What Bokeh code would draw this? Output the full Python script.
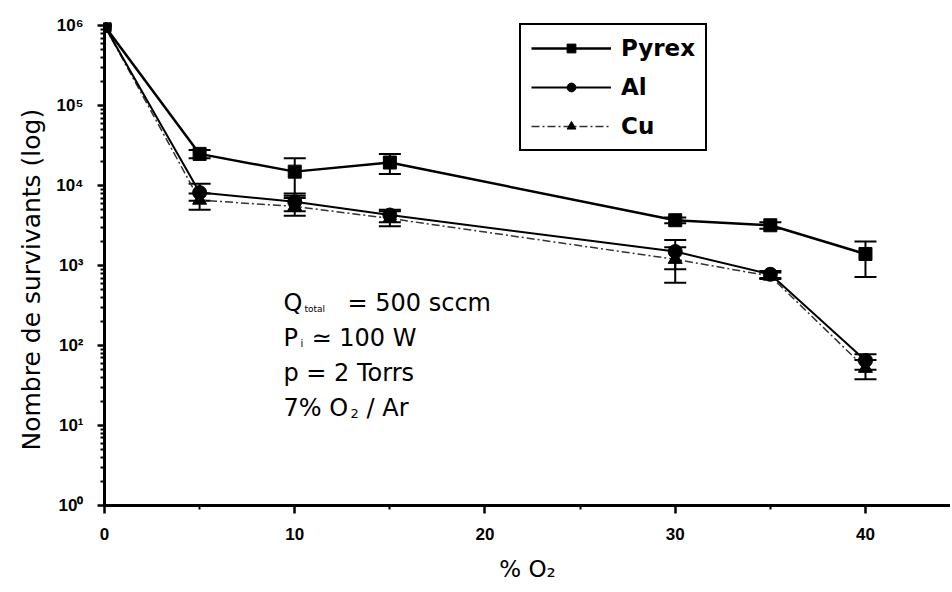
import numpy as np
from bokeh.plotting import figure
from bokeh.models import (ColumnDataSource, Range1d, FixedTicker, CustomJSTickFormatter,
                          Whisker, TeeHead, Legend, LegendItem, Label, Title)
from bokeh.embed import file_html
from bokeh.resources import INLINE

# ---------------- data ----------------
o2_pct = [0, 5, 10, 15, 30, 35, 40]

pyrex    = [1.0e6, 2.5e4, 1.5e4, 1.95e4, 3.7e3, 3.2e3, 1.4e3]
pyrex_lo = [1.0e6, 2.2e4, 8.0e3, 1.4e4, 3.4e3, 2.9e3, 7.2e2]
pyrex_hi = [1.0e6, 2.8e4, 2.2e4, 2.5e4, 4.0e3, 3.5e3, 2.0e3]

al    = [1.0e6, 8.2e3, 6.3e3, 4.3e3, 1.5e3, 7.8e2, 65]
al_lo = [1.0e6, 6.5e3, 4.8e3, 3.5e3, 9.0e2, 7.0e2, 50]
al_hi = [1.0e6, 1.06e4, 7.5e3, 5.0e3, 2.1e3, 8.6e2, 78]

cu    = [1.0e6, 6.6e3, 5.5e3, 3.9e3, 1.2e3, 7.4e2, 52]
cu_lo = [1.0e6, 5.0e3, 4.2e3, 3.1e3, 6.1e2, 6.8e2, 38]
cu_hi = [1.0e6, 8.0e3, 7.0e3, 4.8e3, 1.7e3, 8.2e2, 66]

series_names = ["Pyrex", "Al", "Cu"]

x_ticks = [0, 10, 20, 30, 40]
x_tick_labels = ["0", "10", "20", "30", "40"]
x_minor = [5, 15, 25, 35, 45]
y_ticks = [1, 10, 100, 1e3, 1e4, 1e5, 1e6]
y_tick_labels = ["10\u2070", "10\u00b9", "10\u00b2", "10\u00b3", "10\u2074", "10\u2075", "10\u2076"]

x_title = "% O\u2082"
y_title = "Nombre de survivants (log)"
notes = ["= 500 sccm", "\u2243 100 W", "p = 2 Torrs", "7% O", "/ Ar"]

FONT = "DejaVu Sans"
TICKFONT = "Liberation Sans"

# ---------------- figure ----------------
p = figure(width=950, height=584, y_axis_type="log",
           x_range=Range1d(0, 44.47), y_range=Range1d(1, 1.1e6),
           output_backend="svg", toolbar_location=None,
           min_border_left=104, min_border_top=22, min_border_bottom=79, min_border_right=0)
p.outline_line_color = None
p.grid.visible = False
p.background_fill_color = "white"

fmt_code = """
for (let i = 0; i < vals.length; i++) {
  if (Math.abs(tick - vals[i]) <= 1e-6 * Math.max(1, Math.abs(vals[i]))) return labels[i];
}
return '';
"""

xa = p.xaxis[0]
xa.ticker = FixedTicker(ticks=x_ticks, minor_ticks=x_minor)
xa.formatter = CustomJSTickFormatter(args=dict(vals=x_ticks, labels=x_tick_labels), code=fmt_code)
xa.axis_line_width = 3
xa.major_tick_line_width = 2.5
xa.minor_tick_line_width = 2
xa.major_tick_out = 8
xa.major_tick_in = 0
xa.minor_tick_out = 4
xa.minor_tick_in = 0
xa.major_label_standoff = 14
xa.major_label_text_font = TICKFONT
xa.major_label_text_font_size = "17px"
xa.major_label_text_font_style = "bold"
xa.major_label_text_color = "black"
xa.axis_label = x_title
xa.axis_label_text_font = FONT
xa.axis_label_text_font_size = "23px"
xa.axis_label_text_font_style = "normal"
xa.axis_label_text_color = "black"
xa.axis_label_standoff = 13

minor_y = [m * 10 ** k for k in range(0, 6) for m in range(2, 10)]
ya = p.yaxis[0]
ya.ticker = FixedTicker(ticks=y_ticks, minor_ticks=minor_y)
ya.formatter = CustomJSTickFormatter(args=dict(vals=y_ticks, labels=y_tick_labels), code=fmt_code)
ya.axis_line_width = 3
ya.major_tick_line_width = 2.5
ya.minor_tick_line_width = 2
ya.major_tick_out = 7
ya.major_tick_in = 0
ya.minor_tick_out = 4
ya.minor_tick_in = 0
ya.major_label_standoff = 14
ya.major_label_text_font = TICKFONT
ya.major_label_text_font_size = "17px"
ya.major_label_text_font_style = "bold"
ya.major_label_text_color = "black"

# y axis title as a left-side title, shifted to match the reference position
ytitle = Title(text=y_title, align="left", offset=55, standoff=15,
               text_font=FONT, text_font_size="25px", text_font_style="normal",
               text_color="black")
p.add_layout(ytitle, "left")

# ---------------- series ----------------
specs = [
    (series_names[0], pyrex, pyrex_lo, pyrex_hi, "square", 13, 2.5, "black", "solid"),
    (series_names[1], al, al_lo, al_hi, "circle", 14, 2.0, "black", "solid"),
    (series_names[2], cu, cu_lo, cu_hi, "triangle", 14, 1.5, "#333333", "8 3 2 3"),
]

items = []
for name, ys, lo, hi, marker, size, lw, col, dash in reversed(specs):
    src = ColumnDataSource(dict(x=o2_pct, y=ys))
    ln = p.line("x", "y", source=src, line_width=lw, line_color=col, line_dash=dash)
    sc = p.scatter("x", "y", source=src, marker=marker, size=size,
                   fill_color="black", line_color="black")
    wsrc = ColumnDataSource(dict(x=o2_pct[1:], lo=lo[1:], hi=hi[1:]))
    w = Whisker(base="x", lower="lo", upper="hi", source=wsrc, dimension="height",
                line_color="black", line_width=2,
                lower_head=TeeHead(size=22, line_width=2, line_color="black"),
                upper_head=TeeHead(size=22, line_width=2, line_color="black"))
    p.add_layout(w)
    items.append(LegendItem(label=name, renderers=[ln, sc]))

items = items[::-1]
legend = Legend(items=items, location=(415, 354), orientation="vertical",
                border_line_color="black", border_line_width=2, border_line_alpha=1.0,
                background_fill_color="white", background_fill_alpha=1,
                label_text_font=FONT, label_text_font_size="23px", label_text_font_style="bold",
                label_text_color="black",
                glyph_width=80, glyph_height=22, label_height=22, spacing=13,
                padding=10, label_standoff=10, margin=0)
p.add_layout(legend)

# ---------------- annotations ----------------
def lab(x, y, text, size="24px", align="left", baseline="alphabetic", angle=0):
    l = Label(x=x, y=y, x_units="screen", y_units="screen", text=text,
              text_font=FONT, text_font_size=size, text_color="black",
              text_align=align, text_baseline=baseline, angle=angle, angle_units="deg")
    p.add_layout(l)

ax0 = 179
lab(ax0, 203, "Q")
lab(ax0 + 21, 197, "total", size="9px")
lab(ax0 + 64, 203, notes[0])
lab(ax0, 168, "P")
lab(ax0 + 17, 162, "i", size="10px")
lab(ax0 + 28, 168, notes[1])
lab(ax0, 133, notes[2])
lab(ax0, 98, notes[3])
lab(ax0 + 67, 92, "2", size="13px")
lab(ax0 + 83, 98, notes[4])

open("out.html", "w").write(file_html(p, INLINE))
